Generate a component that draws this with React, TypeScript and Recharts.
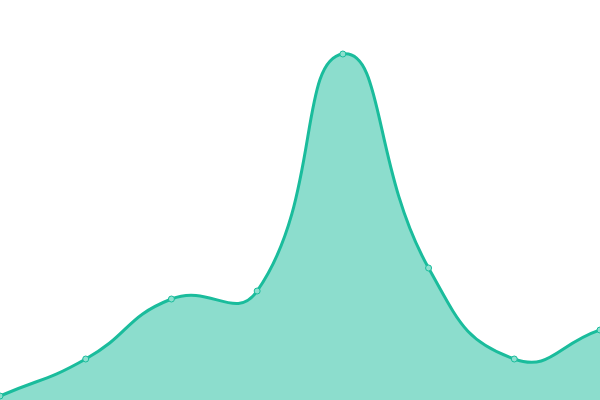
import React from 'react';
import { AreaChart, Area, XAxis, YAxis } from 'recharts';

const categories = ['A', 'B', 'C', 'D', 'E', 'F', 'G', 'H'];
const values = [1, 10.25, 25.25, 27.25, 86.5, 33, 10.25, 17.5];

const data = categories.map((name, i) => ({ name, value: values[i] }));

// bezier smoothing: control points follow the neighbours, split by segment length
const smoothCurve = (smooth: number) => (context: any) => {
  let pts: [number, number][] = [];
  let line = NaN;
  const cps = (i: number) => {
    const p = pts[i];
    const prev = pts[i - 1] || p;
    const next = pts[i + 1] || p;
    const vx = next[0] - prev[0];
    const vy = next[1] - prev[1];
    const d0 = Math.hypot(p[0] - prev[0], p[1] - prev[1]);
    const d1 = Math.hypot(next[0] - p[0], next[1] - p[1]);
    const r = d0 + d1 > 0 ? d1 / (d0 + d1) : 0.5;
    return {
      before: [p[0] - vx * smooth * (1 - r), p[1] - vy * smooth * (1 - r)],
      after: [p[0] + vx * smooth * r, p[1] + vy * smooth * r],
    };
  };
  return {
    areaStart() { line = 0; },
    areaEnd() { line = NaN; },
    lineStart() { pts = []; },
    lineEnd() {
      const n = pts.length;
      if (n) {
        if (line) context.lineTo(pts[0][0], pts[0][1]);
        else context.moveTo(pts[0][0], pts[0][1]);
        for (let i = 0; i < n - 1; i++) {
          const a = cps(i).after;
          const b = cps(i + 1).before;
          context.bezierCurveTo(a[0], a[1], b[0], b[1], pts[i + 1][0], pts[i + 1][1]);
        }
      }
      if (line || (line !== 0 && n === 1)) context.closePath();
      line = 1 - line;
    },
    point(x: number, y: number) { pts.push([+x, +y]); },
  };
};

const App: React.FC = () => {
  return (
    <div style={{ position: 'absolute', left: 0, top: 0, width: 600, height: 400, background: '#fff' }}>
      <AreaChart width={600} height={400} data={data} margin={{ top: 0, right: 0, bottom: 0, left: 0 }}>
        <XAxis dataKey="name" hide />
        <YAxis hide domain={[0, 100]} />
        <Area
          type={smoothCurve(0.5) as any}
          dataKey="value"
          stroke="#1abc9c"
          strokeWidth={3}
          fill="#1abc9c"
          fillOpacity={0.5}
          dot={{ r: 3, fill: '#8de0cf', stroke: '#1abc9c', strokeWidth: 1, fillOpacity: 1 }}
          activeDot={false}
          isAnimationActive={false}
        />
      </AreaChart>
    </div>
  );
};

export default App;
